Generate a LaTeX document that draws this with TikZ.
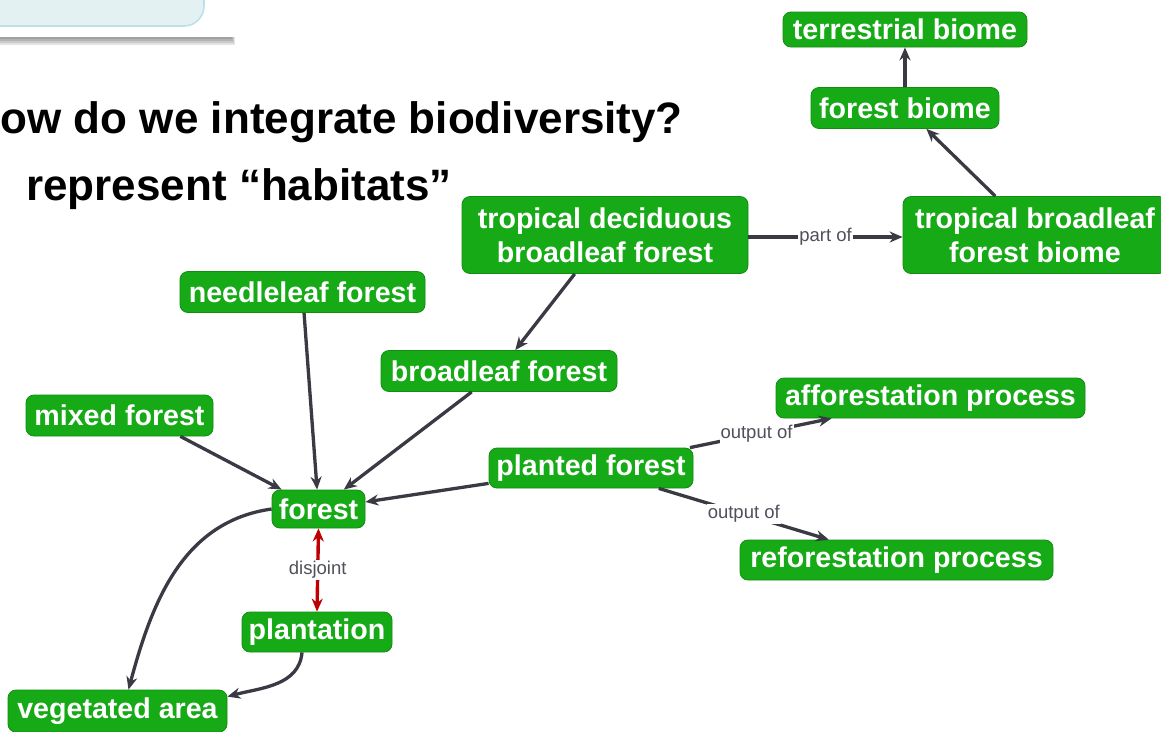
\documentclass[tikz,border=0pt]{standalone}
\usepackage{fontspec}
\setmainfont{Liberation Sans}
\usetikzlibrary{arrows.meta}
\definecolor{ngreen}{RGB}{22,170,22}
\definecolor{nborder}{RGB}{18,140,18}
\definecolor{edgec}{RGB}{58,58,68}
\definecolor{redc}{RGB}{190,0,0}
\definecolor{lblc}{RGB}{80,80,90}
\definecolor{boxblue}{RGB}{227,241,243}
\definecolor{boxline}{RGB}{190,224,232}
\tikzset{
  concept/.style={fill=ngreen, draw=nborder, line width=0.8pt, rounded corners=8pt,
    text=white, font=\fontsize{28.6}{34}\selectfont\bfseries, inner sep=0pt, align=center},
  arr/.style={draw=edgec, line width=3.3pt, -{Stealth[length=13pt,width=11pt]}},
  redarr/.style={draw=redc, line width=3.4pt, {Stealth[length=13pt,width=11pt]}-{Stealth[length=13pt,width=11pt]}},
  elabel/.style={font=\fontsize{18.5}{20}\selectfont, text=lblc, fill=white, inner sep=1pt},
  titletext/.style={font=\fontsize{44}{50}\selectfont\bfseries, text=black, inner sep=0pt}
}
\begin{document}
\begin{tikzpicture}[x=1pt,y=1pt]
\useasboundingbox (0,0) rectangle (1161,-731);
\clip (0,0) rectangle (1161,-731);
\fill[white] (0,0) rectangle (1161,-731);
% top-left panel with shadow
\foreach \k/\o in {1/0.07,2/0.08,3/0.09,4/0.10,5/0.11,6/0.11,7/0.11}{
  \fill[black, opacity=\o] (-10,0) rectangle (228+\k,-31-\k*2);
}
\fill[white] (-10,10) rectangle (235,-37);
\draw[fill=boxblue, draw=boxline, line width=1.6pt, rounded corners=20pt] (-40,40) rectangle (204,-26);
% title text
\node[titletext, anchor=base east] (title1) at (683,-133) {ow do we integrate biodiversity?};
\node[titletext, anchor=base east] (title2) at (452,-200) {represent “habitats”};
% nodes
\node[concept, minimum width=244, minimum height=35] (tbiome) at (905,-29.5) {terrestrial biome};
\node[concept, minimum width=188, minimum height=41] (fbiome) at (905,-108) {forest biome};
\node[concept, minimum width=264, minimum height=77] (tbfb) at (1035,-235) {tropical broadleaf\\forest biome};
\node[concept, minimum width=286, minimum height=77] (tdbf) at (605,-235) {tropical deciduous\\broadleaf forest};
\node[concept, minimum width=245, minimum height=41] (needle) at (302.5,-292) {needleleaf forest};
\node[concept, minimum width=236, minimum height=41] (broad) at (499,-371) {broadleaf forest};
\node[concept, minimum width=187, minimum height=41] (mixed) at (119.5,-415.5) {mixed forest};
\node[concept, minimum width=309, minimum height=40] (affor) at (930.5,-398) {afforestation process};
\node[concept, minimum width=204, minimum height=40] (planted) at (591,-468) {planted forest};
\node[concept, minimum width=93, minimum height=38] (forest) at (318.5,-509) {forest};
\node[concept, minimum width=313, minimum height=40] (refor) at (896.5,-560) {reforestation process};
\node[concept, minimum width=150, minimum height=40] (plant) at (317,-632) {plantation};
\node[concept, minimum width=219, minimum height=42] (veg) at (117.5,-711) {vegetated area};
% edges
\draw[arr] (fbiome) -- (tbiome);
\draw[arr] (tbfb) -- (fbiome);
\draw[arr] (tdbf.east |- 0,-237) -- node[elabel]{part of} (tbfb.west |- 0,-237);
\draw[arr] (tdbf) -- (broad);
\draw[arr] (needle) -- (forest);
\draw[arr] (broad) -- (forest);
\draw[arr] ([xshift=-33]mixed.south east) -- (forest);
\draw[arr] (planted) -- (forest);
\draw[arr] (planted) -- node[elabel, pos=0.47]{output of} (affor);
\draw[arr] (planted) -- node[elabel]{output of} (refor);
\draw[redarr] (forest.south) -- node[elabel, fill=white]{disjoint} (plant.north);
\draw[arr] (forest.west) to[out=188, in=75] ([xshift=11]veg.north);
\draw[arr] ([xshift=-15]plant.south) to[out=265, in=15] ([yshift=-7]veg.north east);
\end{tikzpicture}
\end{document}
